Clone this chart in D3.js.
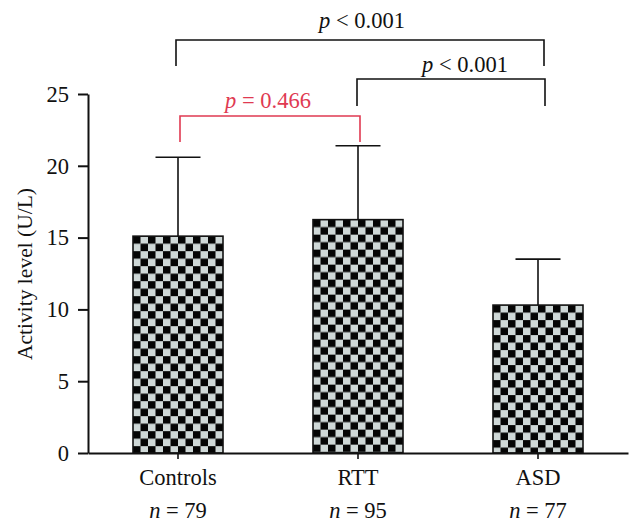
<!DOCTYPE html>
<html>
<head>
<meta charset="utf-8">
<script src="https://cdn.jsdelivr.net/npm/d3@7"></script>
<style>
  html, body { margin: 0; padding: 0; background: #fff; }
  svg { display: block; font-family: "Liberation Serif", "Times New Roman", serif; }
</style>
</head>
<body>
<svg id="chart" width="642" height="526"></svg>
<script>
// ---- data ----
const categories = ["Controls", "RTT", "ASD"];
const sampleSizes = ["79", "95", "77"];
const means = [15.1, 16.25, 10.3];
const errorTops = [20.6, 21.4, 13.5];
const yTicks = [0, 5, 10, 15, 20, 25];
const comparisons = [
  { from: "Controls", to: "ASD", label: "0.001", op: "<", color: "#111" },
  { from: "RTT", to: "ASD", label: "0.001", op: "<", color: "#111" },
  { from: "Controls", to: "RTT", label: "0.466", op: "=", color: "#e03a52" }
];

// ---- layout ----
const svg = d3.select("#chart");
const plotLeft = 88, plotRight = 628, plotTop = 94, plotBottom = 453;

const x = d3.scaleBand().domain(categories).range([plotLeft, plotRight])
  .paddingInner(0.5).paddingOuter(0.25);
const y = d3.scaleLinear().domain([0, 25]).range([plotBottom, plotTop]);

const bw = x.bandwidth();
const bars = categories.map((c, i) => ({ c, i, m: means[i], e: errorTops[i], n: sampleSizes[i] }));

// checker patterns, one per bar, anchored at each bar's top-left
const defs = svg.append("defs");
const sq = 7.5;
bars.forEach(d => {
  const p = defs.append("pattern")
    .attr("id", "chk" + d.i)
    .attr("patternUnits", "userSpaceOnUse")
    .attr("x", x(d.c)).attr("y", y(d.m))
    .attr("width", sq * 2).attr("height", sq * 2);
  p.append("rect").attr("width", sq * 2).attr("height", sq * 2).attr("fill", "#cfd8d7");
  p.append("rect").attr("x", 0).attr("y", 0).attr("width", sq).attr("height", sq).attr("fill", "#050505");
  p.append("rect").attr("x", sq).attr("y", sq).attr("width", sq).attr("height", sq).attr("fill", "#050505");
});

// error bars (behind bars)
const eb = svg.append("g").attr("stroke", "#111").attr("stroke-width", 1.6);
eb.selectAll("line.v").data(bars).join("line").attr("class", "v")
  .attr("x1", d => x(d.c) + bw / 2).attr("x2", d => x(d.c) + bw / 2)
  .attr("y1", d => y(d.m)).attr("y2", d => y(d.e));
eb.selectAll("line.cap").data(bars).join("line").attr("class", "cap")
  .attr("x1", d => x(d.c) + bw / 4).attr("x2", d => x(d.c) + 3 * bw / 4)
  .attr("y1", d => y(d.e)).attr("y2", d => y(d.e));

// bars
svg.append("g").selectAll("rect").data(bars).join("rect")
  .attr("x", d => x(d.c)).attr("width", bw)
  .attr("y", d => y(d.m)).attr("height", d => y(0) - y(d.m))
  .attr("fill", d => "url(#chk" + d.i + ")")
  .attr("stroke", "#111").attr("stroke-width", 1.6);

// y axis
const yAxis = svg.append("g").attr("transform", `translate(${plotLeft},0)`)
  .call(d3.axisLeft(y).tickValues(yTicks).tickSize(10).tickSizeOuter(0).tickPadding(9));
yAxis.select(".domain").attr("stroke", "#111").attr("stroke-width", 2);
yAxis.selectAll(".tick line").attr("stroke", "#111").attr("stroke-width", 2);
yAxis.selectAll(".tick text").attr("font-size", 22.5).attr("fill", "#111")
  .attr("font-family", "Liberation Serif");

// x axis
const xAxis = svg.append("g").attr("transform", `translate(0,${plotBottom})`)
  .call(d3.axisBottom(x).tickSize(6).tickSizeOuter(0).tickFormat(""));
xAxis.select(".domain").attr("stroke", "#111").attr("stroke-width", 2);
xAxis.selectAll(".tick line").attr("stroke", "#111").attr("stroke-width", 1.6);

// category labels
const lab = svg.append("g").attr("text-anchor", "middle").attr("fill", "#111").attr("font-size", 22.5);
lab.selectAll("text.cat").data(bars).join("text").attr("class", "cat")
  .attr("x", d => x(d.c) + bw / 2).attr("y", 485).text(d => d.c);
const nt = lab.selectAll("text.n").data(bars).join("text").attr("class", "n")
  .attr("x", d => x(d.c) + bw / 2).attr("y", 518);
nt.append("tspan").attr("font-style", "italic").text("n");
nt.append("tspan").text(d => " = " + d.n);

// y axis title
svg.append("text")
  .attr("transform", "translate(32,274) rotate(-90)")
  .attr("text-anchor", "middle").attr("font-size", 21.5).attr("fill", "#111")
  .text("Activity level (U/L)");

// significance brackets
const brLayout = [
  { yTop: 40, yBot: 66, textY: 28, dx: 4, o1: -2, o2: 6 },
  { yTop: 79, yBot: 106, textY: 72, dx: 17, o1: -1, o2: 7 },
  { yTop: 116, yBot: 142, textY: 108, dx: 0, o1: 2, o2: 2 }
];
const bg = svg.append("g");
comparisons.forEach((c, i) => {
  const L = brLayout[i];
  const x1 = x(c.from) + bw / 2 + L.o1, x2 = x(c.to) + bw / 2 + L.o2;
  bg.append("path")
    .attr("d", `M${x1},${L.yBot}V${L.yTop}H${x2}V${L.yBot}`)
    .attr("fill", "none").attr("stroke", c.color).attr("stroke-width", 1.6);
  const t = bg.append("text").attr("x", (x(c.from) + x(c.to) + bw) / 2 + L.dx).attr("y", L.textY)
    .attr("text-anchor", "middle").attr("font-size", 22.5).attr("fill", c.color);
  t.append("tspan").attr("font-style", "italic").text("p");
  t.append("tspan").text(" " + c.op + " " + c.label);
});
</script>
</body>
</html>
